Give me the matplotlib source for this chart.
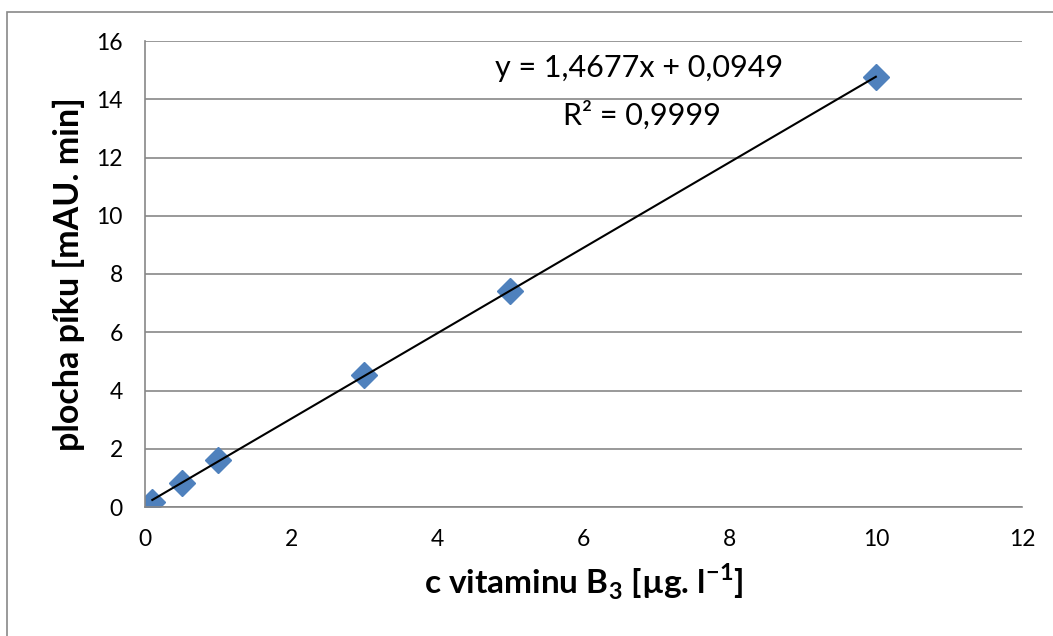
import matplotlib
matplotlib.use("Agg")
import matplotlib.pyplot as plt
from matplotlib.patches import Rectangle

# koncentrace vitaminu B3 a plocha piku
konc = [0.1, 0.5, 1, 3, 5, 10]
plocha = [0.18, 0.83, 1.60, 4.52, 7.43, 14.77]
smernice = 1.4677
usek = 0.0949

plt.rcParams['font.family'] = ['Lato', 'DejaVu Sans']

fig = plt.figure(figsize=(10.53, 6.36), dpi=100)
ax = fig.add_axes([145 / 1053, 1 - 507 / 636, (1022 - 145) / 1053, (507 - 41) / 636])

# ramecek kolem grafu (vpravo a dole je oriznuty)
fig.patches.append(Rectangle((7 / 1053, -0.1), 1.2, 1.1 - 12 / 636,
                             transform=fig.transFigure, fill=False,
                             edgecolor="#898989", linewidth=1.2))

x_fit = [konc[0], konc[-1]]
y_fit = [smernice * v + usek for v in x_fit]
ax.plot(x_fit, y_fit, color="black", linewidth=1.5, zorder=3)
ax.plot(konc, plocha, linestyle="none", marker="D", markersize=13,
        color="#4F81BD", zorder=2)

ax.set_xlim(0, 12)
ax.set_ylim(0, 16)
ax.set_xticks(range(0, 13, 2))
ax.set_yticks(range(0, 17, 2))
ax.grid(axis="y", color="#878787", linewidth=1.2)
ax.set_axisbelow(True)
for s in ["top", "right"]:
    ax.spines[s].set_visible(False)
for s in ["left", "bottom"]:
    ax.spines[s].set_color("#878787")
    ax.spines[s].set_linewidth(1.2)
ax.tick_params(length=0, labelsize=16.5)
ax.tick_params(axis="x", pad=16)
ax.tick_params(axis="y", pad=16)

ax.set_xlabel(r"c vitaminu B$_\mathregular{3}$ [µg. l$^\mathregular{-1}$]",
              fontsize=24, fontweight="bold", labelpad=8)
ax.set_ylabel("plocha píku [mAU. min]", fontsize=24.5, fontweight="bold", labelpad=8)

ax.text((639 - 145) / 877, (507 - 68) / 466, "y = 1,4677x + 0,0949", transform=ax.transAxes,
        fontsize=22, ha="center", va="center")
ax.text((642 - 145) / 877, (507 - 115) / 466, "R² = 0,9999", transform=ax.transAxes,
        fontsize=22, ha="center", va="center")

fig.savefig("out.png", dpi=100)
